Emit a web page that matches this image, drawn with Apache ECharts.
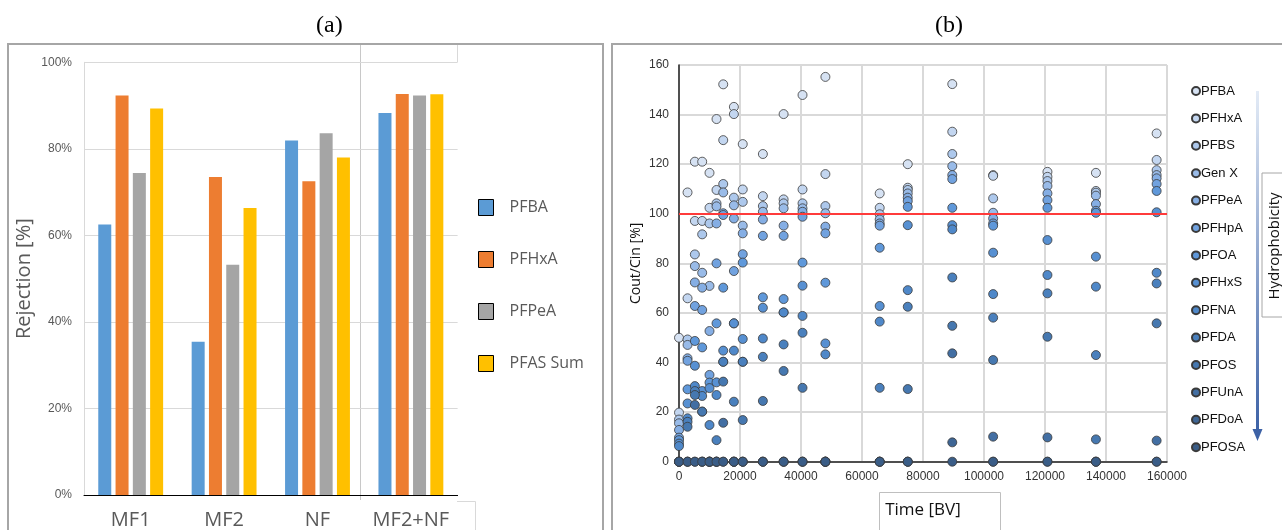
<!DOCTYPE html>
<html>
<head>
<meta charset="utf-8">
<script src="https://cdn.jsdelivr.net/npm/echarts@6/dist/echarts.min.js"></script>
<style>
    html, body { margin: 0; padding: 0; background: #fff; }
    #chart { width: 1282px; height: 530px; }
</style>
</head>
<body>
<div id="chart"></div>
<script>
// (a) rejection per treatment
const processes = ['MF1', 'MF2', 'NF', 'MF2+NF'];
const rejPFBA = [62.5, 35.4, 81.9, 88.3];
const rejPFHxA = [92.3, 73.5, 72.5, 92.7];
const rejPFPeA = [74.4, 53.2, 83.6, 92.3];
const rejSum = [89.3, 66.3, 78.0, 92.6];
const rejTicks = [0, 20, 40, 60, 80, 100];

// (b) breakthrough, Cout/Cin [%] at each sampling time [BV]
const timesBV = [0, 2800, 5200, 7600, 10000, 12300, 14500, 18000, 20900, 27500,
    34300, 40500, 48000, 65800, 75000, 89600, 103000, 120800, 136700, 156600];
const PFBA = [50, 108.6, 121, 121, 116.5, 138.2, 152.2, 143.1, 128.1, 124.1, 140.2, 147.9, 155.2, 108.2, 120, 152.3, 115.6, 116.9, 116.5, 132.4];
const PFHxA = [19.8, 65.9, 97.1, 97.1, 102.4, 109.6, 129.7, 140.2, 109.8, 107.1, 105.8, 109.8, 116, 102.4, 110.5, 133.1, 115.3, 114.9, 109.2, 121.7];
const PFBS = [17, 49.3, 83.6, 91.7, 96.1, 104.2, 112, 106.5, 104.8, 103.1, 104.2, 104.2, 103.1, 99.8, 109.6, 124.1, 106.2, 113.2, 108.5, 117.6];
const GenX = [15.5, 47.1, 78.9, 76.2, 70.9, 103, 108.6, 103.4, 95.2, 100.8, 102.2, 102.2, 100.2, 97.7, 108.2, 119.2, 100.4, 111.2, 107.3, 115.6];
const PFPeA = [12.8, 41.7, 72.3, 70.2, 52.7, 96.1, 100.2, 98.1, 92.1, 97.7, 95.2, 100.8, 94.8, 96.1, 106.5, 115.6, 98.1, 108.2, 103.9, 114.3];
const PFHpA = [9.7, 40.7, 62.8, 61.2, 35, 80, 99.5, 76.9, 83.7, 91.1, 91.1, 98.8, 92.1, 95.2, 105.1, 114, 96.1, 105.5, 101.2, 112];
const PFOA = [8.7, 29.2, 48.7, 46.1, 31.9, 55.8, 70.2, 55.8, 80.3, 66.3, 65.6, 80.3, 72.2, 86.3, 102.8, 102.4, 95.2, 102.4, 100.4, 109.2];
const PFHxS = [7.3, 23.5, 38.7, 28.5, 29.7, 32, 44.8, 55.8, 49.5, 62.1, 60.2, 71, 47.7, 62.8, 95.4, 95.4, 84.3, 89.4, 82.7, 100.6];
const PFNA = [6.3, 17.5, 30.5, 26.5, 14.8, 26.9, 40.3, 44.8, 40.3, 49.7, 60.2, 58.8, 43.3, 56.5, 69.2, 93.7, 67.6, 75.3, 70.6, 76.2];
const PFDA = [0, 16.1, 28.5, 20.2, 0, 8.7, 40.3, 24.2, 40.3, 42.3, 47.3, 52, 0, 29.8, 62.5, 74.3, 58.1, 67.9, 43, 71.9];
const PFOS = [0, 14.1, 26.9, 20.2, 0, 0, 32.3, 0, 16.8, 24.5, 36.6, 29.8, 0, 0, 29.3, 54.8, 41, 50.4, 9, 55.8];
const PFUnA = [0, 0, 22.9, 0, 0, 0, 15.7, 0, 0, 0, 0, 0, 0, 0, 0, 43.7, 10.1, 9.8, 0, 8.5];
const PFDoA = [0, 0, 0, 0, 0, 0, 0, 0, 0, 0, 0, 0, 0, 0, 0, 7.8, 0, 0, 0, 0];
const PFOSA = [0, 0, 0, 0, 0, 0, 0, 0, 0, 0, 0, 0, 0, 0, 0, 0, 0, 0, 0, 0];
const compoundNames = ['PFBA', 'PFHxA', 'PFBS', 'Gen X', 'PFPeA', 'PFHpA', 'PFOA', 'PFHxS',
    'PFNA', 'PFDA', 'PFOS', 'PFUnA', 'PFDoA', 'PFOSA'];
const compoundValues = [PFBA, PFHxA, PFBS, GenX, PFPeA, PFHpA, PFOA, PFHxS,
    PFNA, PFDA, PFOS, PFUnA, PFDoA, PFOSA];
const breakthroughLevel = 100;

const compoundColors = ['#d6e2f3', '#c3d6f0', '#adc8ec', '#99bbe8', '#85aee4', '#71a2df', '#5f98da',
    '#5790d2', '#4f88c9', '#4a80bd', '#4678b0', '#436fa3', '#3f6695', '#3a5d87'];
// scatter series get a suffix so they don't share legend entries with the bars
const SUFFIX = ' (b)';

const chartBox = document.getElementById('chart');
const chart = echarts.init(chartBox);

const barSeries = [
    {name: 'PFBA', data: rejPFBA, color: '#5b9bd5'},
    {name: 'PFHxA', data: rejPFHxA, color: '#ed7d31'},
    {name: 'PFPeA', data: rejPFPeA, color: '#a5a5a5'},
    {name: 'PFAS Sum', data: rejSum, color: '#ffc000'},
].map(s => ({
    type: 'bar',
    name: s.name,
    xAxisIndex: 0,
    yAxisIndex: 0,
    data: s.data,
    barWidth: 13,
    barGap: '33%',
    itemStyle: {color: s.color},
}));

const scatterSeries = compoundNames.map((name, k) => ({
    type: 'scatter',
    name: name + SUFFIX,
    xAxisIndex: 1,
    yAxisIndex: 1,
    clip: false,
    symbolSize: 9,
    itemStyle: {color: compoundColors[k], borderColor: '#3a3a3a', borderWidth: 0.8, opacity: 1},
    data: timesBV.map((t, i) => [t, compoundValues[k][i]]),
}));

const refLine = {
    type: 'line',
    name: 'breakthrough',
    xAxisIndex: 1,
    yAxisIndex: 1,
    data: [],
    markLine: {
        silent: true,
        symbol: 'none',
        label: {show: false},
        lineStyle: {color: '#ff3b3b', width: 2, type: 'solid'},
        data: [{yAxis: breakthroughLevel}],
    },
};

const options = {
    animation: false,
    backgroundColor: '#fff',
    grid: [
        {left: 84, top: 62.3, width: 373.6, height: 436},
        {left: 679, top: 65, width: 488, height: 396.7},
    ],
    xAxis: [
        {
            type: 'category',
            gridIndex: 0,
            data: processes,
            axisLine: {lineStyle: {color: '#000', width: 1}},
            axisTick: {show: false},
            axisLabel: {interval: 0, fontSize: 20, color: '#595959', margin: 15, fontFamily: 'Open Sans'},
        },
        {
            type: 'value',
            gridIndex: 1,
            min: 0, max: 160000, interval: 20000,
            name: 'Time [BV]',
            nameLocation: 'middle',
            nameGap: 40,
            nameTextStyle: {fontSize: 17, color: '#111', fontFamily: 'Open Sans'},
            axisLine: {lineStyle: {color: '#222', width: 1.5}},
            axisTick: {show: false},
            axisLabel: {fontSize: 12, color: '#333', margin: 9, fontFamily: 'Liberation Sans', formatter: v => String(v)},
            splitLine: {show: true, lineStyle: {color: '#d9d9d9', width: 2}},
        },
    ],
    yAxis: [
        {
            type: 'value',
            gridIndex: 0,
            min: rejTicks[0], max: rejTicks[rejTicks.length - 1], interval: 20,
            name: 'Rejection [%]',
            nameLocation: 'middle',
            nameGap: 50,
            nameTextStyle: {fontSize: 20, color: '#595959', fontFamily: 'Open Sans'},
            axisLine: {show: true, lineStyle: {color: '#d9d9d9'}},
            axisTick: {show: false},
            axisLabel: {fontSize: 12, color: '#595959', margin: 12, formatter: '{value}%', fontFamily: 'Liberation Sans'},
            splitLine: {lineStyle: {color: '#d9d9d9', width: 1}},
        },
        {
            type: 'value',
            gridIndex: 1,
            min: 0, max: 160, interval: 20,
            name: 'Cout/Cin [%]',
            nameLocation: 'middle',
            nameGap: 36,
            nameTextStyle: {fontSize: 14, color: '#111', fontFamily: 'Open Sans'},
            axisLine: {show: true, lineStyle: {color: '#222', width: 1.5}},
            axisTick: {show: false},
            axisLabel: {fontSize: 12, color: '#333', margin: 10, fontFamily: 'Liberation Sans'},
            splitLine: {lineStyle: {color: '#d9d9d9', width: 2}},
        },
    ],
    legend: [
        {
            data: barSeries.map(s => s.name),
            orient: 'vertical',
            left: 478, top: 199,
            padding: 0,
            icon: 'rect',
            itemWidth: 15, itemHeight: 16, itemGap: 35,
            itemStyle: {borderColor: '#000', borderWidth: 1},
            textStyle: {fontSize: 16, color: '#595959', lineHeight: 16, fontFamily: 'Open Sans', padding: [0, 0, 0, 11]},
        },
        {
            data: compoundNames.map(n => n + SUFFIX),
            formatter: n => n.replace(SUFFIX, ''),
            orient: 'vertical',
            left: 1191, top: 84,
            padding: 0,
            icon: 'circle',
            itemWidth: 8, itemHeight: 8, itemGap: 13.4,
            textStyle: {fontSize: 13, color: '#111', lineHeight: 14, fontFamily: 'Liberation Sans', padding: [0, 0, 0, -4]},
        },
    ],
    graphic: [
        {type: 'text', left: 316, top: 14, style: {text: '(a)', font: '24px "Liberation Serif"', fill: '#000'}},
        {type: 'text', left: 935, top: 14, style: {text: '(b)', font: '24px "Liberation Serif"', fill: '#000'}},
        {type: 'rect', shape: {x: 8, y: 44, width: 595, height: 500}, style: {fill: 'none', stroke: '#a6a6a6', lineWidth: 2}, z: -1},
        {type: 'rect', shape: {x: 612, y: 44, width: 690, height: 500}, style: {fill: 'none', stroke: '#a6a6a6', lineWidth: 2}, z: -1},
        {type: 'line', shape: {x1: 360.5, y1: 45, x2: 360.5, y2: 500}, style: {stroke: '#c8c8c8', lineWidth: 1}},
        {type: 'line', shape: {x1: 457.5, y1: 45, x2: 457.5, y2: 62}, style: {stroke: '#d9d9d9', lineWidth: 1}},
        {type: 'line', shape: {x1: 457, y1: 501.5, x2: 475.5, y2: 501.5}, style: {stroke: '#d9d9d9', lineWidth: 1}},
        {type: 'line', shape: {x1: 475.5, y1: 501.5, x2: 475.5, y2: 530}, style: {stroke: '#d9d9d9', lineWidth: 1}},
        {type: 'rect', shape: {x: 879.5, y: 492.5, width: 121, height: 50}, style: {fill: 'none', stroke: '#bfbfbf', lineWidth: 1}, z: -1},
        {
            type: 'rect', shape: {x: 1256, y: 91, width: 3, height: 340},
            style: {fill: new echarts.graphic.LinearGradient(0, 0, 0, 1, [
                {offset: 0, color: '#e3ebf6'}, {offset: 1, color: '#3d62a6'}])},
        },
        {type: 'polygon', shape: {points: [[1252.5, 429], [1262.5, 429], [1257.5, 441]]}, style: {fill: '#3d62a6'}},
        {type: 'rect', shape: {x: 1262, y: 173, width: 40, height: 144}, style: {fill: '#fff', stroke: '#a6a6a6', lineWidth: 1}},
        {
            type: 'text', x: 1275, y: 246, rotation: Math.PI / 2,
            style: {text: 'Hydrophobicity', font: '15px "Open Sans"', fill: '#111', align: 'center', verticalAlign: 'middle'},
        },
    ],
    series: [...barSeries, refLine, ...scatterSeries],
};

chart.setOption(options);
</script>
</body>
</html>
